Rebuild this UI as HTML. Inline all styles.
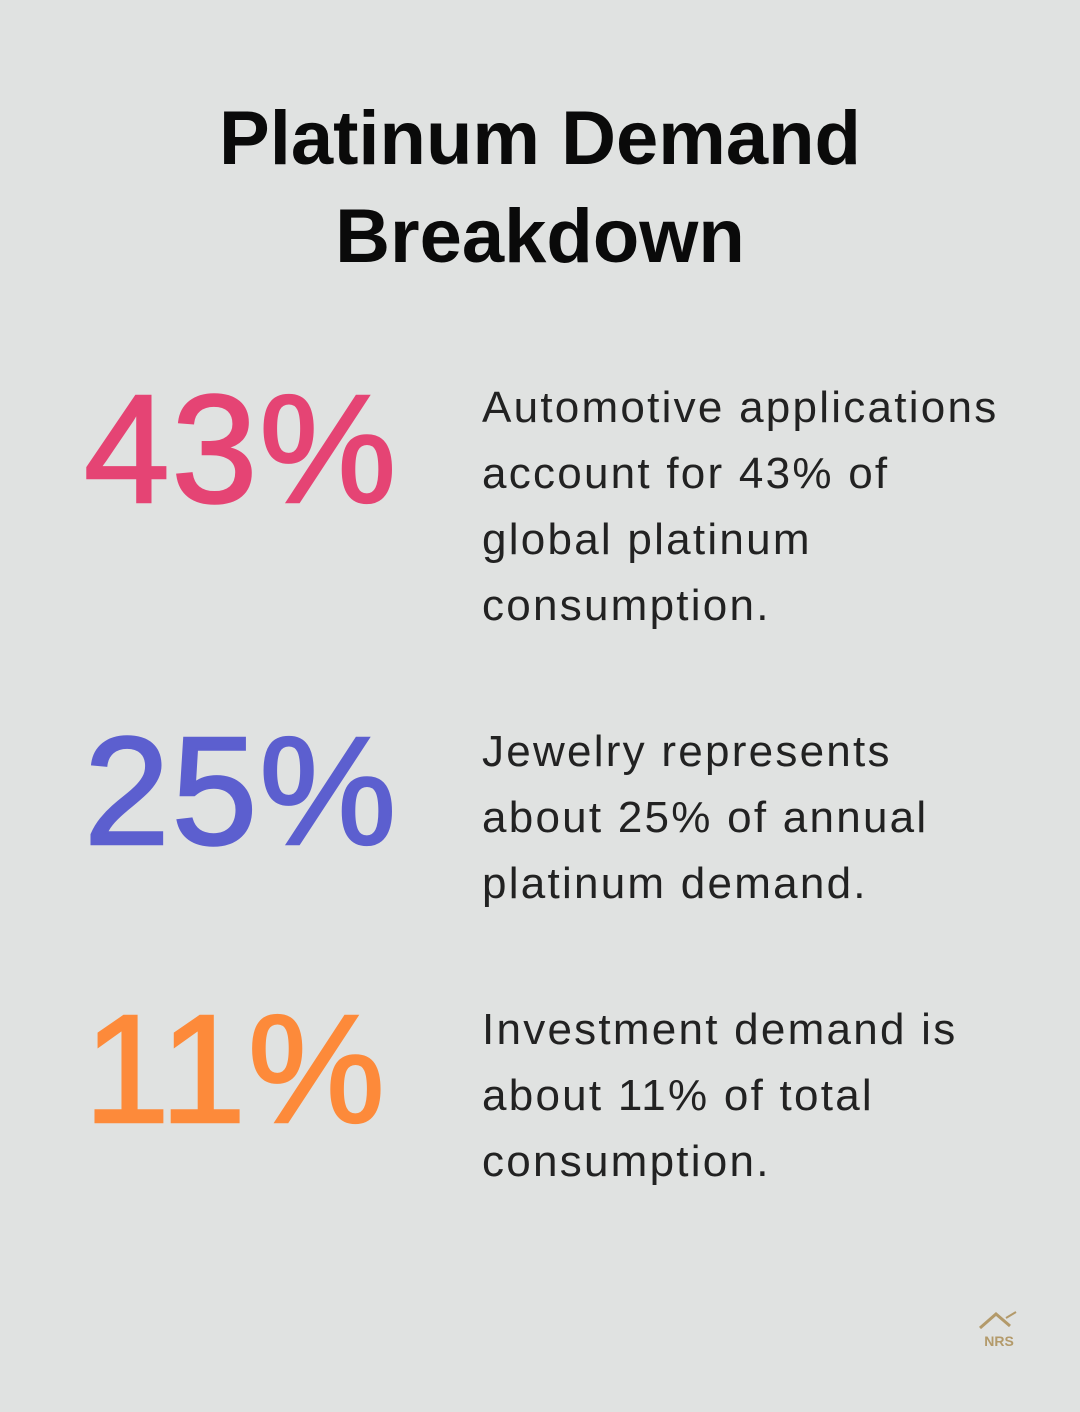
<!DOCTYPE html>
<html><head><meta charset="utf-8"><style>
html,body{margin:0;padding:0;}
body{width:1080px;height:1412px;background:#e0e2e1;position:relative;overflow:hidden;font-family:"Liberation Sans",sans-serif;}
.t{position:absolute;left:0;width:1080px;text-align:center;font-weight:bold;font-size:76px;color:#0a0a0a;line-height:1;}
.n{position:absolute;left:84px;width:330px;font-size:154px;line-height:1;letter-spacing:2px;-webkit-text-stroke:2.5px currentColor;}
.d{position:absolute;left:482px;font-size:44px;line-height:66px;color:#222;letter-spacing:2.25px;}
</style></head><body>
<div class="t" style="top:101px">Platinum Demand</div>
<div class="t" style="top:199px">Breakdown</div>

<div class="n" style="top:372px;color:#e54474">43%</div>
<div class="d" style="top:375px">Automotive applications<br>account for 43% of<br>global platinum<br>consumption.</div>

<div class="n" style="top:714px;color:#5c5fcf">25%</div>
<div class="d" style="top:719px">Jewelry represents<br>about 25% of annual<br>platinum demand.</div>

<div class="n" style="top:992px;color:#fd8a3a">11%</div>
<div class="d" style="top:997px">Investment demand is<br>about 11% of total<br>consumption.</div>

<svg style="position:absolute;left:976px;top:1308px" width="46" height="42" viewBox="0 0 46 42">
<path d="M4 20 L20 6 L34 18" fill="none" stroke="#b39a6a" stroke-width="3"/>
<path d="M30 10 L40 4" stroke="#b39a6a" stroke-width="2"/>
<text x="23" y="38" text-anchor="middle" font-family="Liberation Sans" font-weight="bold" font-size="14" fill="#b39a6a">NRS</text>
</svg>
</body></html>
